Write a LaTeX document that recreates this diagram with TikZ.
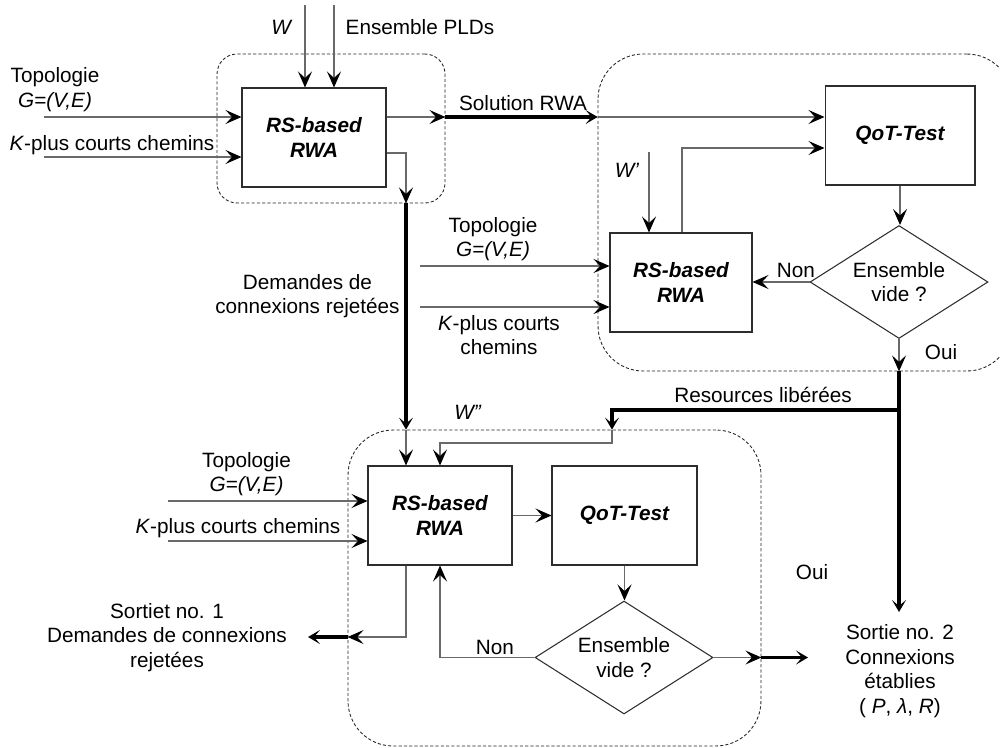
\documentclass[tikz,border=0pt]{standalone}
\usepackage{fontspec}
\setmainfont{Liberation Sans}
\usepackage{tikz}
\usetikzlibrary{arrows.meta,shapes.geometric,calc}
\definecolor{rwLine}{RGB}{105,105,105}
\definecolor{rwBox}{RGB}{45,45,45}

\begin{document}
\begin{tikzpicture}[
  x=0.02cm, y=-0.02cm,
  font=\fontsize{11.8}{14}\selectfont,
  lbl/.style={align=center, inner sep=0pt},
  blk/.style={draw=rwBox, line width=0.6pt, minimum width=2.88cm, minimum height=1.98cm, inner sep=0pt, align=center, font=\fontsize{11.8}{14}\selectfont\bfseries\itshape},
  dec/.style={draw=rwBox, line width=0.6pt, shape=diamond, aspect=1.58, minimum width=3.56cm, minimum height=2.26cm, inner sep=0pt, align=center},
  grp/.style={draw=black!85, line width=0.5pt, dash pattern=on 1.8pt off 1.2pt, rounded corners=0.9cm},
  ln/.style={draw=rwLine, line width=0.6pt, -{Stealth[length=3.2mm, width=2.8mm, inset=1.3mm, color=black]}},
  thk/.style={draw=black, line width=2pt, -{Stealth[length=2.4mm, width=2.8mm, inset=1.2mm]}},
]
\useasboundingbox (0,0) rectangle (1000,747);
\clip (0,0) rectangle (1000,747);
% dashed groups
\node[grp, rounded corners=0.4cm, minimum width=4.56cm, minimum height=2.98cm] (g1) at (331,128.5) {};
\node[grp, minimum width=8.28cm, minimum height=6.34cm] (g2) at (805,212.5) {};
\node[grp, minimum width=8.26cm, minimum height=6.32cm] (g3) at (554.5,588) {};
% blocks
\node[blk] (box1) at (314,137.5) {RS-based\\RWA};
\node[blk, minimum width=3.0cm] (qot1) at (900,135.5) {QoT-Test};
\node[blk, minimum width=2.84cm] (box2) at (681,282.5) {RS-based\\RWA};
\node[dec] (dia1) at (899,282) {Ensemble\\vide ?};
\node[blk] (box3) at (440,515.5) {RS-based\\RWA};
\node[blk, minimum width=2.9cm] (qot2) at (624.5,515.5) {QoT-Test};
\node[dec] (dia2) at (624,657.5) {Ensemble\\vide ?};
% labels
\node[lbl] (lW) at (282,27) {\textit{W}};
\node[lbl] (lPLD) at (420,27) {Ensemble PLDs};
\node[lbl] (lTopo1) at (55,89.5) {Topologie\\\textit{G=(V,E)}};
\node[lbl] (lK1) at (112,145) {\textit{K}-plus courts chemins};
\node[lbl] (lSol) at (523,103) {Solution RWA};
\node[lbl, anchor=east] (lRej) at (400,296) {Demandes de\\connexions rejetées};
\node[lbl] (lW1) at (627,170) {\textit{W'}};
\node[lbl] (lTopo2) at (493,239) {Topologie\\\textit{G=(V,E)}};
\node[lbl] (lK2) at (499,335) {\textit{K}-plus courts\\chemins};
\node[lbl] (lNon1) at (796,270) {Non};
\node[lbl] (lOui1) at (941,352) {Oui};
\node[lbl] (lRes) at (763,395) {Resources libérées};
\node[lbl] (lW2) at (468,412) {\textit{W''}};
\node[lbl] (lTopo3) at (246.5,474) {Topologie\\\textit{G=(V,E)}};
\node[lbl] (lK3) at (238,528) {\textit{K}-plus courts chemins};
\node[lbl] (lNon2) at (495,647) {Non};
\node[lbl] (lOui2) at (812,572) {Oui};
\node[lbl] (out1) at (167,637.5) {Sortiet no. 1\\Demandes de connexions\\rejetées};
\node[lbl] (out2) at (900,671) {Sortie no. 2\\Connexions\\établies\\( \textit{P}, \textit{λ}, \textit{R})};
% first block inputs
\coordinate (inW) at (305,5);
\coordinate (inP) at (334,5);
\coordinate (inT1) at (44,117);
\coordinate (inK1) at (44,157);
\draw[ln] (inW) -- (inW |- box1.north);
\draw[ln] (inP) -- (inP |- box1.north);
\draw[ln] (inT1) -- (inT1 -| box1.west);
\draw[ln] (inK1) -- (inK1 -| box1.west);
% solution RWA
\draw[ln] (inT1 -| box1.east) -- (inT1 -| g1.east);
\draw[thk] (inT1 -| g1.east) -- (inT1 -| g2.west);
\draw[ln] (inT1 -| g2.west) -- (inT1 -| qot1.west);
% rejected requests
\coordinate (rj) at (406,153);
\draw[ln] (rj -| box1.east) -- (rj) -- (rj |- g1.south);
\draw[thk] (rj |- g1.south) -- (rj |- g3.north);
\draw[ln] (rj |- g3.north) -- (rj |- box3.north);
% second block
\coordinate (inW1) at (649,152);
\coordinate (up2) at (682,148);
\coordinate (inT2) at (420,266);
\coordinate (inK2) at (420,307);
\draw[ln] (inW1) -- (inW1 |- box2.north);
\draw[ln] (up2 |- box2.north) -- (up2) -- (up2 -| qot1.west);
\draw[ln] (inT2) -- (inT2 -| box2.west);
\draw[ln] (inK2) -- (inK2 -| box2.west);
\draw[ln] (qot1.south) -- (qot1.south |- dia1.north);
\draw[ln] (dia1.west) -- (dia1.west -| box2.east);
\draw[ln] (dia1.south) -- (dia1.south |- g2.south);
% established / released
\coordinate (res) at (612,410);
\coordinate (o2) at (899,612);
\coordinate (wr) at (440,443);
\draw[thk] (dia1.south |- g2.south) -- (o2);
\draw[thk] (o2 |- res) -- (res) -- (res |- g3.north);
\draw[ln] (res |- g3.north) -- (res |- wr) -- (wr) -- (wr |- box3.north);
% third block
\coordinate (inT3) at (168,501);
\coordinate (inK3) at (168,541);
\draw[ln] (inT3) -- (inT3 -| box3.west);
\draw[ln] (inK3) -- (inK3 -| box3.west);
\draw[ln] (box3.east) -- (box3.east -| qot2.west);
\draw[ln] (qot2.south) -- (qot2.south |- dia2.north);
\draw[ln] (dia2.west) -| (box3.south);
\coordinate (s1) at (406,637);
\coordinate (o1) at (308,637);
\draw[ln] (s1 |- box3.south) -- (s1) -- (s1 -| g3.west);
\draw[thk] (s1 -| g3.west) -- (o1);
\coordinate (o2b) at (808,657.5);
\draw[ln] (dia2.east) -- (dia2.east -| g3.east);
\draw[thk] (dia2.east -| g3.east) -- (o2b);
\end{tikzpicture}
\end{document}
